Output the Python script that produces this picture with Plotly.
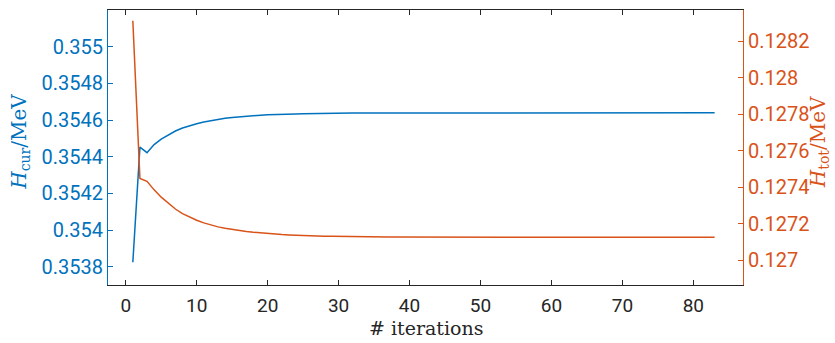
import plotly.graph_objects as go

iterations = list(range(1, 84))

h_cur = [0.353824, 0.354452, 0.354422, 0.354466, 0.354496, 0.354520, 0.354540, 0.354556,
         0.354569, 0.354580, 0.354589, 0.354597, 0.354604, 0.354609, 0.354614, 0.354618,
         0.354621, 0.354624, 0.354626, 0.354628, 0.354630, 0.354631, 0.354632, 0.354633,
         0.354634, 0.354635, 0.354636, 0.354636, 0.354637, 0.354637] + [0.354638] * 10 + [0.354639] * 43

h_tot = [0.128313, 0.127447, 0.127432, 0.127385, 0.127345, 0.127310, 0.127280, 0.127255,
         0.127235, 0.127218, 0.127204, 0.127192, 0.127182, 0.127174, 0.127167, 0.127161,
         0.127156, 0.127152, 0.127148, 0.127145, 0.127142, 0.127140, 0.127138, 0.127136,
         0.127134, 0.127133, 0.127132, 0.127131, 0.127130, 0.127129, 0.127128, 0.127128,
         0.127127, 0.127127, 0.127126] + [0.127126] * 5 + [0.127125] * 43

x_ticks = [0, 10, 20, 30, 40, 50, 60, 70, 80]
left_ticks = [0.3538, 0.354, 0.3542, 0.3544, 0.3546, 0.3548, 0.355]
left_labels = ["0.3538", "0.354", "0.3542", "0.3544", "0.3546", "0.3548", "0.355"]
right_ticks = [0.127, 0.1272, 0.1274, 0.1276, 0.1278, 0.128, 0.1282]
right_labels = ["0.127", "0.1272", "0.1274", "0.1276", "0.1278", "0.128", "0.1282"]

BLUE = "#0072BD"
ORANGE = "#D95319"
TICKFONT = "Roboto"
SERIF = "DejaVu Serif"

fig = go.Figure()
fig.add_trace(go.Scatter(x=iterations, y=h_cur, mode="lines",
                         line=dict(color=BLUE, width=1.5), yaxis="y", showlegend=False))
fig.add_trace(go.Scatter(x=iterations, y=h_tot, mode="lines",
                         line=dict(color=ORANGE, width=1.5), yaxis="y2", showlegend=False))

fig.update_layout(
    width=835, height=343,
    margin=dict(l=108, r=92, t=10, b=58),
    paper_bgcolor="white", plot_bgcolor="white",
    xaxis=dict(range=[-2.5, 87], tickvals=x_ticks, ticks="inside", ticklen=5,
               tickcolor="#262626", showline=True, linecolor="#262626", linewidth=1,
               mirror="ticks", showgrid=False, zeroline=False, ticklabelstandoff=3,
               tickfont=dict(family=TICKFONT, size=19, color="#262626")),
    yaxis=dict(range=[0.35370, 0.35520], tickvals=left_ticks, ticktext=left_labels,
               ticks="inside", ticklen=5, tickcolor=BLUE, showline=True, linecolor=BLUE,
               linewidth=1, showgrid=False, zeroline=False,
               tickfont=dict(family=TICKFONT, size=20, color=BLUE)),
    yaxis2=dict(range=[0.126863, 0.128372], tickvals=right_ticks, ticktext=right_labels,
                overlaying="y", side="right", ticks="inside", ticklen=5, tickcolor=ORANGE,
                showline=True, linecolor=ORANGE, linewidth=1, showgrid=False, zeroline=False,
                tickfont=dict(family=TICKFONT, size=20, color=ORANGE)),
    annotations=[
        dict(text="# iterations", xref="paper", yref="paper",
             x=0.5, y=-0.108, xanchor="center", yanchor="top",
             showarrow=False, font=dict(family=SERIF, size=19, color="#262626")),
        dict(text="<i>H</i><sub>cur</sub>/MeV", xref="paper", yref="paper",
             x=-0.139, y=0.52, xanchor="center", yanchor="middle", textangle=-90,
             showarrow=False, font=dict(family=SERIF, size=20, color=BLUE)),
        dict(text="<i>H</i><sub>tot</sub>/MeV", xref="paper", yref="paper",
             x=1.12, y=0.52, xanchor="center", yanchor="middle", textangle=-90,
             showarrow=False, font=dict(family=SERIF, size=20, color=ORANGE)),
    ],
)

fig.write_html("out.html")
